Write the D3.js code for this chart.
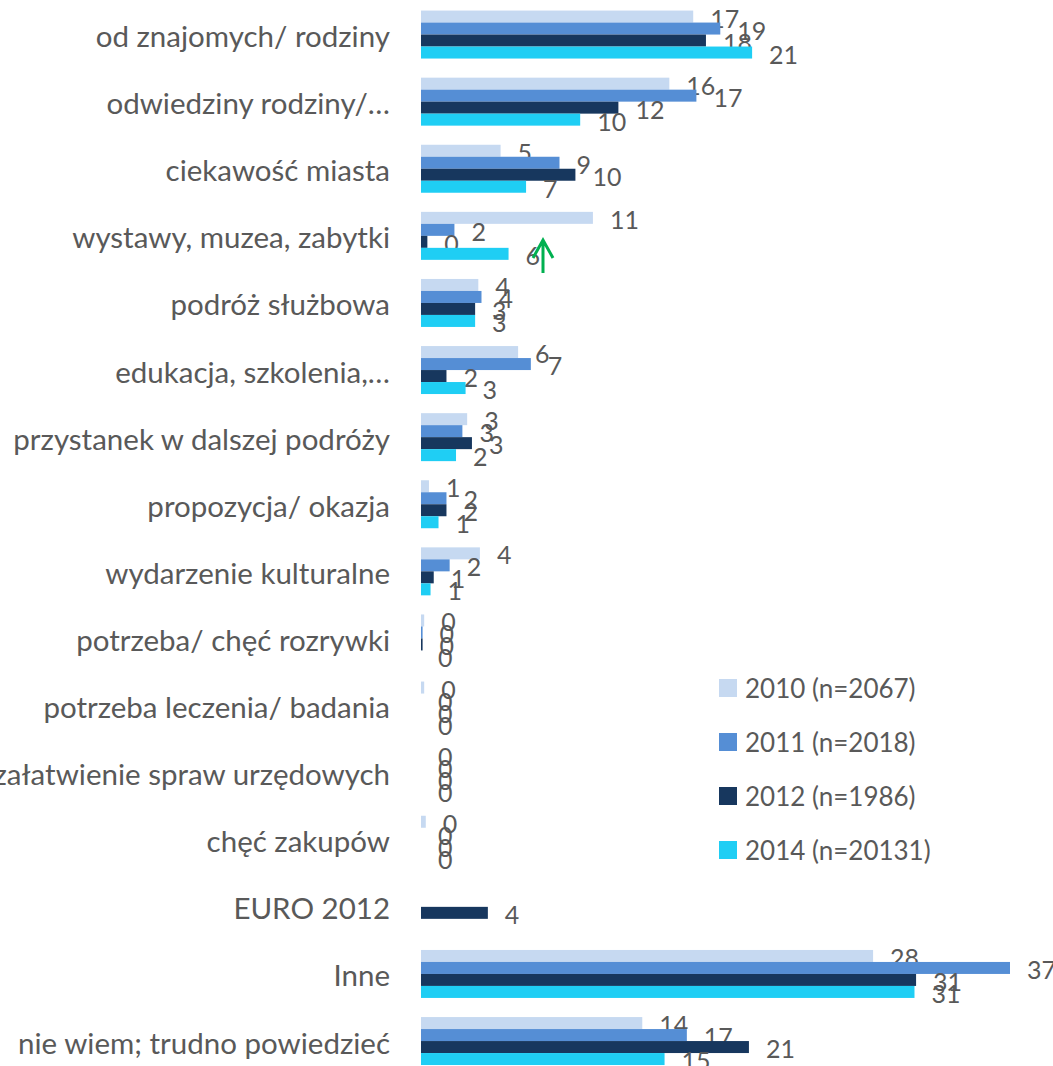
<!DOCTYPE html>
<html lang="pl">
<head>
  <meta charset="UTF-8">
  <title>Powody przyjazdu</title>
  <script src="https://cdn.jsdelivr.net/npm/d3@7"></script>
  <style>
    body { margin: 0; background: #fff; overflow: hidden; }
    text { font-family: Lato, "Open Sans", sans-serif; fill: #595959; }
  </style>
</head>
<body>
  <div id="chart"></div>
  <script>
    const categories = [
      'od znajomych/ rodziny', 'odwiedziny rodziny/…', 'ciekawość miasta',
      'wystawy, muzea, zabytki', 'podróż służbowa', 'edukacja, szkolenia,…',
      'przystanek w dalszej podróży', 'propozycja/ okazja', 'wydarzenie kulturalne',
      'potrzeba/ chęć rozrywki', 'potrzeba leczenia/ badania',
      'załatwienie spraw urzędowych', 'chęć zakupów', 'EURO 2012', 'Inne',
      'nie wiem; trudno powiedzieć'
    ];
    const seriesNames = ['2010 (n=2067)', '2011 (n=2018)', '2012 (n=1986)', '2014 (n=20131)'];
    const seriesColors = ['#c6d9f1', '#558ed5', '#17375e', '#1fcef4'];

    // percentages, null = no bar
    const v2010 = [17.1, 15.6, 5.0, 10.8, 3.6, 6.1, 2.9, 0.5, 3.7, 0.2, 0.2, 0, 0.3, null, 28.4, 13.9];
    const v2011 = [18.8, 17.3, 8.7, 2.1, 3.8, 6.9, 2.6, 1.6, 1.8, 0.1, 0, 0, 0, null, 37.0, 16.7];
    const v2012 = [17.9, 12.4, 9.7, 0.4, 3.4, 1.6, 3.2, 1.6, 0.8, 0.1, 0, 0, 0, 4.2, 31.1, 20.6];
    const v2014 = [20.8, 10.0, 6.6, 5.5, 3.4, 2.8, 2.2, 1.1, 0.6, 0, 0, 0, 0, null, 31.0, 15.3];
    const allValues = [v2010, v2011, v2012, v2014];

    const width = 1053, height = 1066;
    const svg = d3.select('#chart').append('svg')
      .attr('width', width)
      .attr('height', height);

    const x = d3.scaleLinear().domain([0, 37]).range([421, 1010]);
    const y = d3.scaleBand().domain(categories)
      .range([1, 1074.6])
      .paddingInner(0.285)
      .paddingOuter(0.1425);
    const ySub = d3.scaleBand().domain(d3.range(seriesNames.length))
      .range([0, y.bandwidth()]);

    // category labels
    svg.append('g').selectAll('text')
      .data(categories)
      .join('text')
      .attr('x', 390)
      .attr('y', d => y(d) + y.bandwidth() / 2 + 12.5)
      .attr('text-anchor', 'end')
      .attr('font-size', 29.5)
      .text(d => d);

    const groups = svg.append('g').selectAll('g')
      .data(allValues)
      .join('g')
      .attr('fill', (d, i) => seriesColors[i]);

    groups.each(function(vals, si) {
      const g = d3.select(this);
      const pts = vals.map((v, ci) => ({ v, c: categories[ci] })).filter(d => d.v !== null);
      g.selectAll('rect')
        .data(pts)
        .join('rect')
        .attr('x', x(0))
        .attr('y', d => y(d.c) + ySub(si))
        .attr('width', d => x(d.v) - x(0))
        .attr('height', ySub.bandwidth());
      g.selectAll('text')
        .data(pts)
        .join('text')
        .attr('x', d => x(d.v) + 17)
        .attr('y', d => y(d.c) + ySub(si) + ySub.bandwidth() / 2 + 11)
        .attr('font-size', 25)
        .text(d => d3.format('.0f')(d.v));
    });

    // legend
    const legend = svg.append('g').selectAll('g')
      .data(seriesNames)
      .join('g')
      .attr('transform', (d, i) => `translate(719, ${688 + i * 54})`);
    legend.append('rect')
      .attr('y', -9)
      .attr('width', 18)
      .attr('height', 18)
      .attr('fill', (d, i) => seriesColors[i]);
    legend.append('text')
      .attr('x', 26)
      .attr('y', 9.5)
      .attr('font-size', 26)
      .text(d => d);

    // green arrow annotation
    svg.append('path')
      .attr('d', 'M543,273 L543,240 M533,258 L543,240 L553,258')
      .attr('fill', 'none')
      .attr('stroke', '#00b050')
      .attr('stroke-width', 3);
  </script>
</body>
</html>
